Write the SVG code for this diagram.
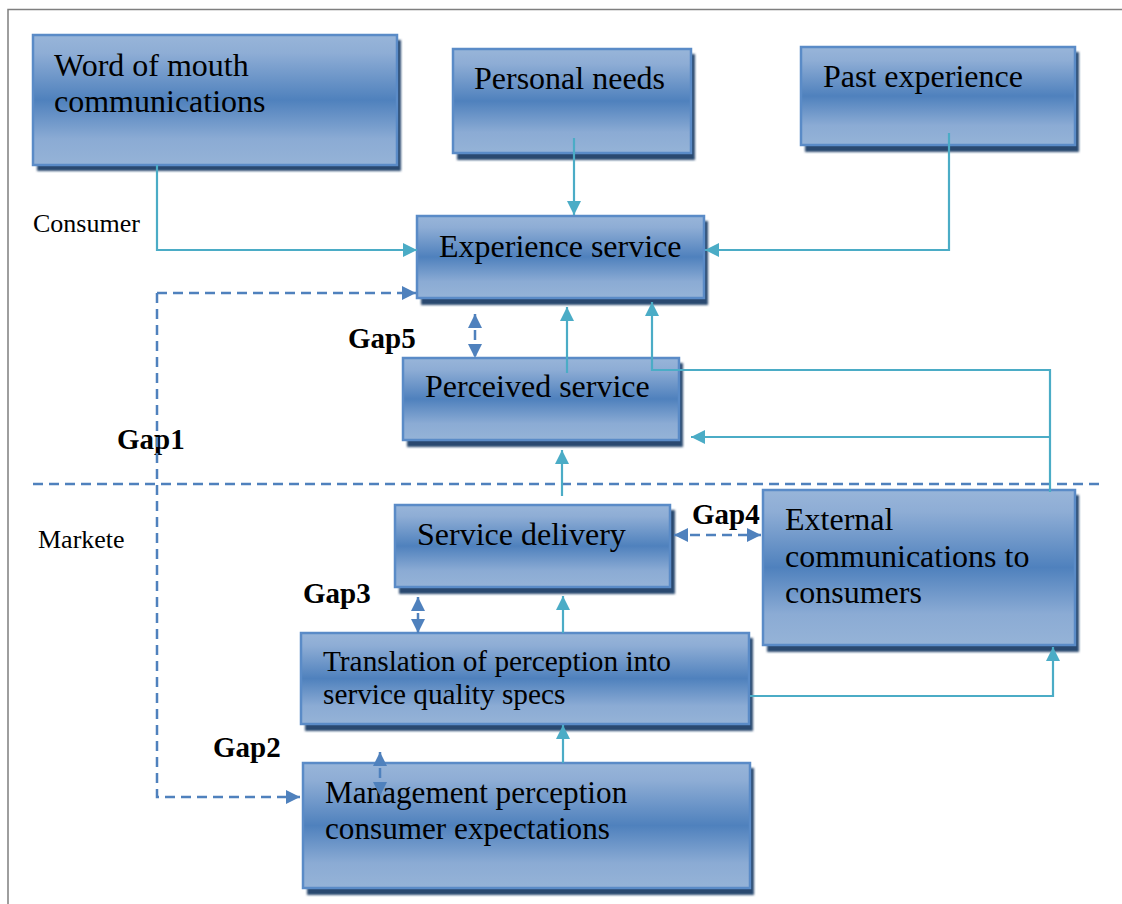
<svg xmlns="http://www.w3.org/2000/svg" width="1122" height="904" viewBox="0 0 1122 904">
  <defs>
    <linearGradient id="boxFill" x1="0" y1="0" x2="0" y2="1">
      <stop offset="0" stop-color="#98b5d9"/>
      <stop offset="0.14" stop-color="#8eadd5"/>
      <stop offset="0.5" stop-color="#4f81bd"/>
      <stop offset="0.8" stop-color="#8babd4"/>
      <stop offset="1" stop-color="#95b3d7"/>
    </linearGradient>
    <filter id="soft" x="-5%" y="-5%" width="110%" height="115%">
      <feGaussianBlur stdDeviation="0.8"/>
    </filter>
    <marker id="arrT" viewBox="0 0 14 14" refX="14" refY="7" markerWidth="14" markerHeight="14" markerUnits="userSpaceOnUse" orient="auto-start-reverse">
      <path d="M0,0 L14,7 L0,14 Z" fill="#4bacc6"/>
    </marker>
    <marker id="arrB" viewBox="0 0 14 14" refX="14" refY="7" markerWidth="14" markerHeight="14" markerUnits="userSpaceOnUse" orient="auto-start-reverse">
      <path d="M0,0 L14,7 L0,14 Z" fill="#4f81bd"/>
    </marker>
  </defs>
  <style>
    .shadow { fill: #2c4a70; filter: url(#soft); }
    .box { fill: url(#boxFill); stroke: #5a8bc7; stroke-width: 2.5; }
    .lbl { font-family: "Liberation Serif", "Times New Roman", serif; font-size: 32px; fill: #000; }
    .side { font-family: "Liberation Serif", "Times New Roman", serif; font-size: 26px; fill: #000; }
    .gap { font-family: "Liberation Serif", "Times New Roman", serif; font-size: 29px; font-weight: bold; fill: #000; }
    .flow { fill: none; stroke: #4bacc6; stroke-width: 2.2; }
    .dash { fill: none; stroke: #4f81bd; stroke-width: 2.5; stroke-dasharray: 10 6; }
  </style>

  <rect width="1122" height="904" fill="#ffffff"/>
  <!-- page frame -->
  <path d="M8,904 L8,9.5 L1122,9.5" fill="none" stroke="#7f7f7f" stroke-width="1.5"/>

  <!-- consumer / marketer divider -->
  <line class="dash" x1="33" y1="484" x2="1102" y2="484"/>

  <!-- nodes -->
  <g id="word-of-mouth">
    <rect class="shadow" x="37" y="40" width="364" height="131"/>
    <rect class="box" x="33" y="35" width="364" height="130"/>
    <text class="lbl" x="54" y="76">Word of mouth</text>
    <text class="lbl" x="54" y="112">communications</text>
  </g>
  <g id="personal-needs">
    <rect class="shadow" x="457" y="54" width="238" height="106"/>
    <rect class="box" x="453" y="49" width="238" height="104"/>
    <text class="lbl" x="474" y="89">Personal needs</text>
  </g>
  <g id="past-experience">
    <rect class="shadow" x="805" y="52" width="274" height="100"/>
    <rect class="box" x="801" y="47" width="274" height="98"/>
    <text class="lbl" x="823" y="87">Past experience</text>
  </g>
  <g id="experience-service">
    <rect class="shadow" x="421" y="221" width="287" height="84"/>
    <rect class="box" x="417" y="216" width="287" height="82"/>
    <text class="lbl" x="439" y="257">Experience service</text>
  </g>
  <g id="perceived-service">
    <rect class="shadow" x="407" y="363" width="276" height="84"/>
    <rect class="box" x="403" y="358" width="276" height="82"/>
    <text class="lbl" x="425" y="397">Perceived service</text>
  </g>
  <g id="service-delivery">
    <rect class="shadow" x="399" y="510" width="276" height="84"/>
    <rect class="box" x="395" y="505" width="275" height="82"/>
    <text class="lbl" x="417" y="545">Service delivery</text>
  </g>
  <g id="external-communications">
    <rect class="shadow" x="767" y="495" width="312" height="157"/>
    <rect class="box" x="763" y="490" width="312" height="155"/>
    <text class="lbl" x="785" y="530">External</text>
    <text class="lbl" x="785" y="567">communications to</text>
    <text class="lbl" x="785" y="603">consumers</text>
  </g>
  <g id="translation">
    <rect class="shadow" x="305" y="638" width="448" height="93"/>
    <rect class="box" x="301" y="633" width="448" height="91"/>
    <text class="lbl" x="323" y="671" style="font-size:29.3px">Translation of perception into</text>
    <text class="lbl" x="323" y="704" style="font-size:29.3px">service quality specs</text>
  </g>
  <g id="management-perception">
    <rect class="shadow" x="307" y="768" width="447" height="127"/>
    <rect class="box" x="303" y="763" width="447" height="125"/>
    <text class="lbl" x="325" y="803" style="font-size:31.2px">Management perception</text>
    <text class="lbl" x="325" y="839" style="font-size:31.2px">consumer expectations</text>
  </g>

  <!-- side labels -->
  <g id="labels">
    <text class="side" x="33" y="232">Consumer</text>
    <text class="side" x="38" y="548">Markete</text>
    <text class="gap" x="348" y="348">Gap5</text>
    <text class="gap" x="117" y="449">Gap1</text>
    <text class="gap" x="692" y="524">Gap4</text>
    <text class="gap" x="303" y="603">Gap3</text>
    <text class="gap" x="213" y="757">Gap2</text>
  </g>

  <!-- connectors -->
  <g id="connectors">
    <!-- inputs to expected service -->
    <path class="flow" d="M157,165 L157,250 L417,250" marker-end="url(#arrT)"/>
    <path class="flow" d="M574,138 L574,215" marker-end="url(#arrT)"/>
    <path class="flow" d="M949,133 L949,250 L705,250" marker-end="url(#arrT)"/>
    <!-- perceived service up to experience service -->
    <path class="flow" d="M567,373 L567,307" marker-end="url(#arrT)"/>
    <path class="flow" d="M652,371 L652,302" marker-end="url(#arrT)"/>
    <!-- external communications loop -->
    <path class="flow" d="M652,370 L1050,370 L1050,492"/>
    <path class="flow" d="M1050,437 L691,437" marker-end="url(#arrT)"/>
    <!-- marketer side flow -->
    <path class="flow" d="M562,496 L562,450" marker-end="url(#arrT)"/>
    <path class="flow" d="M563,633 L563,596" marker-end="url(#arrT)"/>
    <path class="flow" d="M563,763 L563,725" marker-end="url(#arrT)"/>
    <path class="flow" d="M750,696 L1053,696 L1053,647" marker-end="url(#arrT)"/>

    <!-- gap 1 -->
    <path class="dash" d="M157,293 L416,293" marker-end="url(#arrB)"/>
    <path class="dash" d="M157,293 L157,797 L300,797" marker-end="url(#arrB)"/>
    <!-- gaps 5, 3, 2 and 4 -->
    <path class="dash" d="M475,314 L475,358" stroke-dasharray="6 4" marker-start="url(#arrB)" marker-end="url(#arrB)"/>
    <path class="dash" d="M418,597 L418,633" stroke-dasharray="4 3" marker-start="url(#arrB)" marker-end="url(#arrB)"/>
    <path class="dash" d="M380,752 L380,796" stroke-dasharray="6 4" marker-start="url(#arrB)" marker-end="url(#arrB)"/>
    <path class="dash" d="M674,535 L761,535" stroke-dasharray="8 5" marker-start="url(#arrB)" marker-end="url(#arrB)"/>
  </g>
</svg>
